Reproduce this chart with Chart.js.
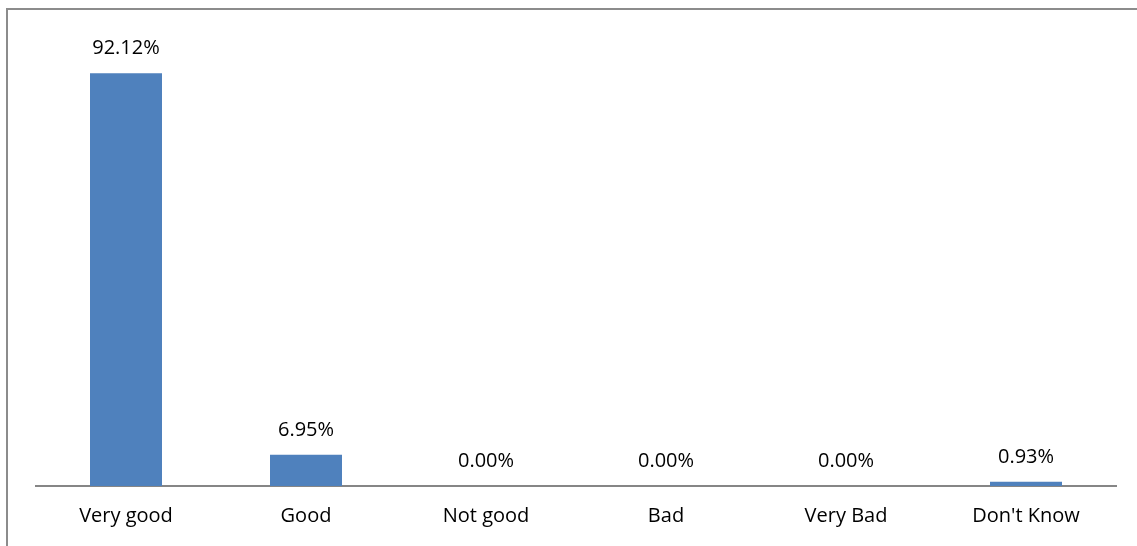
<!DOCTYPE html>
<html lang="en">
<head>
  <meta charset="UTF-8">
  <title>Rating chart</title>
  <script src="https://cdn.jsdelivr.net/npm/chart.js"></script>
  <style>
    body { margin: 0; background: #fff; }
    .wrap { position: relative; width: 1137px; height: 546px; overflow: hidden; }
    .frame { position: absolute; left: 6px; top: 8px; right: -4px; bottom: -4px; border-top: 2px solid #8c8c8c; border-left: 2px solid #8c8c8c; pointer-events: none; }
    canvas { display: block; }
  </style>
</head>
<body>
<div class="wrap">
  <canvas id="myChart" width="1137" height="546"></canvas>
  <div class="frame"></div>
</div>
<script>
  const categories = ["Very good", "Good", "Not good", "Bad", "Very Bad", "Don't Know"];
  const percentages = [92.12, 6.95, 0.00, 0.00, 0.00, 0.93];

  const fontFamily = '"Open Sans", sans-serif';
  const fontSize = 20;

  // 在每根長條上方寫出百分比
  const valueLabels = {
    id: 'valueLabels',
    afterDatasetsDraw(chart) {
      const ctx = chart.ctx;
      const meta = chart.getDatasetMeta(0);
      ctx.save();
      ctx.font = fontSize + 'px ' + fontFamily;
      ctx.fillStyle = '#000';
      ctx.textAlign = 'center';
      ctx.textBaseline = 'middle';
      meta.data.forEach((bar, i) => {
        ctx.fillText(percentages[i].toFixed(2) + '%', bar.x, bar.y - 25);
      });
      ctx.restore();
    }
  };

  const ctx = document.getElementById('myChart').getContext('2d');
  new Chart(ctx, {
    type: 'bar',
    data: {
      labels: categories,
      datasets: [{
        data: percentages,
        backgroundColor: '#4f81bd',
        barPercentage: 0.4,
        categoryPercentage: 1.0
      }]
    },
    options: {
      responsive: false,
      animation: false,
      // 軸線約在 y=486，刻度文字在下方
      layout: { padding: { left: 36, right: 21, top: 38, bottom: 0 } },
      plugins: { legend: { display: false }, tooltip: { enabled: false } },
      scales: {
        x: {
          grid: { display: false, drawTicks: false },
          border: { display: true, color: '#868686', width: 2 },
          ticks: { color: '#000', padding: 18, font: { family: fontFamily, size: fontSize } }
        },
        y: { display: false, min: 0, max: 100 }
      }
    },
    plugins: [valueLabels]
  });
</script>
</body>
</html>
